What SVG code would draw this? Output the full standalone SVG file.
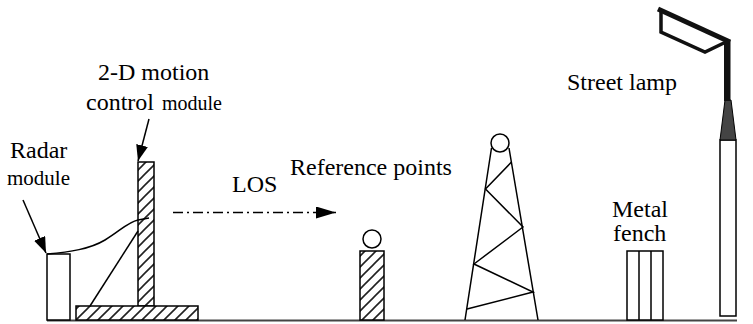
<svg xmlns="http://www.w3.org/2000/svg" width="753" height="324" viewBox="0 0 753 324">
  <style>
    .lbl { font-size: 24px; fill: #000; }
    .sm { font-size: 20px; }
    .sm21 { font-size: 21px; }
    .ln { fill: none; stroke: #000; stroke-width: 1.5; }
    .box { fill: #fff; stroke: #000; stroke-width: 1.5; }
    .hatched { fill: url(#hatch); stroke: #000; stroke-width: 1.5; }
  </style>
  <defs>
    <pattern id="hatch" width="11" height="11" patternUnits="userSpaceOnUse">
      <rect width="11" height="11" fill="#fff"/>
      <path d="M-1,12 L12,-1 M-2,2 L2,-2 M9,13 L13,9" stroke="#222" stroke-width="1.6"/>
    </pattern>
    <marker id="headBig" viewBox="0 0 16 12" refX="16" refY="6" markerWidth="16" markerHeight="12" markerUnits="userSpaceOnUse" orient="auto">
      <path d="M0,0 L16,6 L0,12 Z" fill="#000"/>
    </marker>
    <marker id="headLos" viewBox="0 0 20 12" refX="20" refY="6" markerWidth="20" markerHeight="12" markerUnits="userSpaceOnUse" orient="auto">
      <path d="M0,0 L20,6 L0,12 Z" fill="#000"/>
    </marker>
  </defs>

  <!-- ground -->
  <line x1="47" y1="320.5" x2="737" y2="320.5" stroke="#444" stroke-width="2"/>

  <g font-family="'Liberation Serif', 'Times New Roman', 'DejaVu Serif', serif">
    <g id="radar">
      <rect class="box" x="47" y="254" width="23" height="66"/>
      <text class="lbl" x="10" y="158">Radar</text>
      <text class="lbl sm21" x="7" y="185">module</text>
    </g>

    <g id="motion-module">
      <rect class="hatched" x="138" y="162" width="16" height="144"/>
      <rect class="hatched" x="76" y="306" width="122" height="14"/>
      <text class="lbl" x="98" y="80">2-D motion</text>
      <text class="lbl" x="86" y="110">control</text>
      <text class="lbl sm" x="162" y="110">module</text>
    </g>

    <g id="reference-point">
      <circle class="box" cx="372" cy="239" r="9"/>
      <rect class="hatched" x="360" y="251" width="24" height="69"/>
      <text class="lbl" x="290" y="175">Reference points</text>
    </g>

    <g id="tower">
      <circle class="box" cx="500" cy="143" r="9"/>
      <path class="ln" d="M491.5,148 L465,320 M509,148 L538,320"/>
      <path class="ln" d="M511.5,162 L485.5,189 L523,227 L474,264 L533,292 L467,309"/>
    </g>

    <g id="metal-fence">
      <rect class="box" x="627" y="251" width="36" height="69"/>
      <path class="ln" d="M639,251 V320 M651,251 V320"/>
      <text class="lbl" x="612" y="217">Metal</text>
      <text class="lbl" x="613" y="241">fench</text>
    </g>

    <g id="street-lamp">
      <rect class="box" x="720" y="140" width="16" height="176"/>
      <path d="M720,140 L725,100 L731,100 L736,140 Z" fill="#444" stroke="#000" stroke-width="1"/>
      <rect x="724" y="40" width="6.5" height="61" fill="#111"/>
      <path d="M658,9 L730,42" stroke="#111" stroke-width="5" fill="none"/>
      <path d="M661,11 L661,32 L705,52 L728,41" stroke="#111" stroke-width="3.5" fill="none"/>
      <text class="lbl" x="567" y="90">Street lamp</text>
    </g>

    <g id="connectors">
      <path class="ln" d="M23,200 L46,253" marker-end="url(#headBig)"/>
      <path class="ln" d="M149,119 L138,161" marker-end="url(#headBig)"/>
      <path class="ln" d="M47,254 C70,252 90,249 105,240 S128,222 138,220 L149,218"/>
      <path class="ln" d="M90,306 L138,231"/>
      <path class="ln" d="M173,212.5 L336,212.5" stroke-dasharray="10,4,2,4" marker-end="url(#headLos)"/>
      <text class="lbl" x="232" y="192">LOS</text>
    </g>
  </g>
</svg>
